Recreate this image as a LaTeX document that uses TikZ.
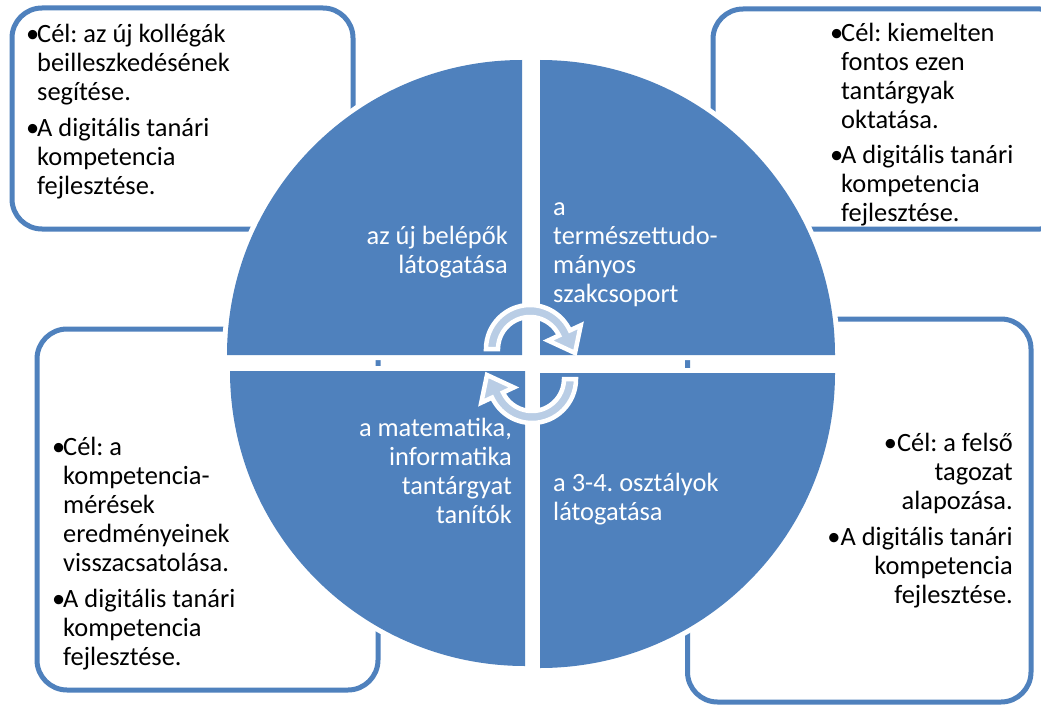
\documentclass[tikz,border=0pt]{standalone}
\usepackage{fontspec}
\setmainfont{Carlito}
\definecolor{sablue}{RGB}{79,129,189}
\definecolor{salight}{RGB}{185,205,229}
\tikzset{
  boxline/.style={draw=sablue, line width=5pt, fill=white, rounded corners=30pt},
  halo/.style={draw=white, fill=white, line width=10pt},
  quad/.style={fill=sablue},
  qtext/.style={text=white, inner sep=0pt, font=\fontsize{26.4}{28.7}\selectfont},
  btext/.style={text=black, inner sep=0pt, font=\fontsize{26.4}{29}\selectfont},
  cyc/.style={draw=white, line width=4.5pt, fill=salight, line join=miter},
}
\newcommand\bul{\makebox[11pt][l]{\textbullet}}
\newcommand\ind{\hspace*{11pt}}
\begin{document}
\frenchspacing
\begin{tikzpicture}[x=1pt,y=-1pt]
\useasboundingbox (0,0) rectangle (1041,706);
\clip (0,0) rectangle (1041,706);
\fill[white] (0,0) rectangle (1041,706);
% corner boxes
\path[boxline] (12,8) rectangle (353,229);
\path[boxline] (713,9) rectangle (1070,229);
\path[boxline] (37,329) rectangle (378,690);
\path[boxline] (687.5,319) rectangle (1031,702);
% halos
\path[halo] (522,355) -- (227,355) arc[start angle=180,end angle=270,radius=295] -- cycle;
\path[halo] (540,355) -- (540,60) arc[start angle=270,end angle=360,radius=295] -- cycle;
\path[halo] (525,371) -- (230,371) arc[start angle=180,end angle=90,radius=295] -- cycle;
\path[halo] (540,373) -- (835,373) arc[start angle=0,end angle=90,radius=295] -- cycle;
% quadrants
\path[quad] (522,355) -- (227,355) arc[start angle=180,end angle=270,radius=295] -- cycle;
\path[quad] (540,355) -- (540,60) arc[start angle=270,end angle=360,radius=295] -- cycle;
\path[quad] (525,371) -- (230,371) arc[start angle=180,end angle=90,radius=295] -- cycle;
\path[quad] (540,373) -- (835,373) arc[start angle=0,end angle=90,radius=295] -- cycle;
% quadrant texts (anchor = baseline of last line)
\node[qtext, anchor=base east, align=right] (q1) at (508,273) {az új belépők\\látogatása};
\node[qtext, anchor=base west, align=left] (q2) at (553,302) {a\\természettudo-\\mányos\\szakcsoport};
\node[qtext, anchor=base east, align=right] (q3) at (512,523) {a matematika,\\informatika\\tantárgyat\\tanítók};
\node[qtext, anchor=base west, align=left] (q4) at (553,520) {a 3-4. osztályok\\látogatása};
% box texts
\node[btext, anchor=base west, align=left] (t1) at (26,194.3) {\bul Cél: az új kollégák\\\ind beilleszkedésének\\\ind segítése.\\[6.5pt]\bul A digitális tanári\\\ind kompetencia\\\ind fejlesztése.};
\node[btext, anchor=base west, align=left] (t2) at (830,221.7) {\bul Cél: kiemelten\\\ind fontos ezen\\\ind tantárgyak\\\ind oktatása.\\[6.5pt]\bul A digitális tanári\\\ind kompetencia\\\ind fejlesztése.};
\node[btext, anchor=base west, align=left] (t3) at (52,665) {\bul Cél: a\\\ind kompetencia-\\\ind mérések\\\ind eredményeinek\\\ind visszacsatolása.\\[6.5pt]\bul A digitális tanári\\\ind kompetencia\\\ind fejlesztése.};
\node[btext, anchor=base east, align=right] (t4) at (1013,603) {\textbullet Cél: a felső\\tagozat\\alapozása.\\[6.5pt]\textbullet A digitális tanári\\kompetencia\\fejlesztése.};
% cycle arrows
\begin{scope}[shift={(530,349)}]
\path[cyc] (180:44) arc[start angle=180,end angle=335,radius=44] -- (335:56) -- (45,4) -- (335:20) -- (335:32) arc[start angle=335,end angle=180,radius=32] -- cycle;
\end{scope}
\begin{scope}[shift={(532,379)}]
\path[cyc] (0:44) arc[start angle=0,end angle=155,radius=44] -- (155:56) -- (-45,-4) -- (155:20) -- (155:32) arc[start angle=155,end angle=0,radius=32] -- cycle;
\end{scope}
\end{tikzpicture}
\end{document}
